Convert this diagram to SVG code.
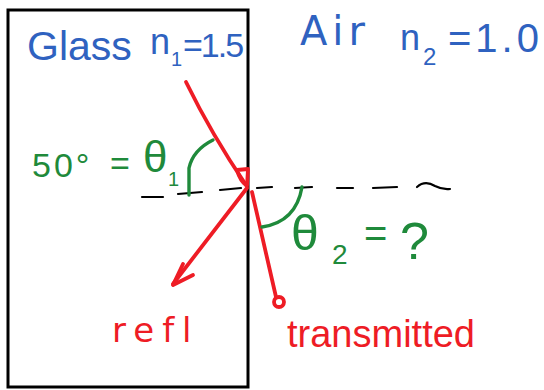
<svg xmlns="http://www.w3.org/2000/svg" width="544" height="390" viewBox="0 0 544 390">
<style>
.blue{fill:#2f62c0;font-family:"Liberation Sans",Arial,sans-serif}
.green{fill:#1f8a3b;font-family:"Liberation Sans",Arial,sans-serif}
.red{fill:#ee1c25;font-family:"Liberation Sans",Arial,sans-serif}
.wide{font-family:"DejaVu Sans",Verdana,sans-serif}
.ray{stroke:#ee1c25;stroke-width:3.8;fill:none;stroke-linecap:round;stroke-linejoin:round}
.arc{stroke:#1f8a3b;stroke-width:3.4;fill:none;stroke-linecap:round}
.dash{stroke:#000;stroke-width:2.2;fill:none;stroke-linecap:round}
</style>
<rect width="544" height="390" fill="#fff"/>
<g id="glass">
<rect x="8" y="10" width="240" height="377" fill="none" stroke="#000" stroke-width="3"/>
</g>
<g id="normal">
<path class="dash" d="M142,197 L163,197" stroke-width="5"/>
<path class="dash" d="M178,194 L202,192"/>
<path class="dash" d="M220,190 L241,188"/>
<path class="dash" d="M257,188 L272,187"/>
<path class="dash" d="M295,188 L312,187"/>
<path class="dash" d="M337,188 L353,188"/>
<path class="dash" d="M373,188 L397,187"/>
<path class="dash" d="M417,187 Q425,180 435,186 Q443,190 450,189"/>
</g>
<g id="connectors">
<path class="ray" d="M186,82 Q212,135 246,185"/>
<path class="ray" d="M237,170 Q240,181 247,186 L248,169 Z" fill="#ee1c25"/>
<path class="ray" d="M247,188 L173,284"/>
<path class="ray" d="M183,264 L173,285 L193,275"/>
<path class="ray" d="M252,192 L276,297" stroke-width="3"/>
<circle cx="279" cy="302" r="5" class="ray" stroke-width="3.2"/>
</g>
<g id="angle1">
<path class="arc" d="M189,195 L189,168 Q193,150 213,140"/>
</g>
<g id="angle2">
<path class="arc" d="M302,187 Q296,222 262,227"/>
</g>
<g id="label-glass" class="blue">
<text x="27" y="60" font-size="41">Glass</text>
<text x="150" y="54" font-size="36">n</text>
<text x="171" y="66" font-size="20">1</text>
<text x="183" y="57" font-size="34" letter-spacing="-2">=1.5</text>
</g>
<g id="label-air" class="blue">
<text x="300" y="45" font-size="40" letter-spacing="5" class="wide">Air</text>
<text x="400" y="50" font-size="36">n</text>
<text x="423" y="65" font-size="24">2</text>
<text x="448" y="52" font-size="40" letter-spacing="4">=1.0</text>
</g>
<g id="label-theta1" class="green">
<text x="32" y="177" font-size="34" letter-spacing="3">50°</text>
<text x="110" y="175" font-size="34">=</text>
<text x="143" y="172" font-size="44">θ</text>
<text x="168" y="186" font-size="20">1</text>
</g>
<g id="label-theta2" class="green">
<text x="291" y="250" font-size="50">θ</text>
<text x="332" y="264" font-size="28">2</text>
<text x="364" y="247" font-size="40">=</text>
<text x="400" y="259" font-size="52">?</text>
</g>
<g id="label-refl" class="red">
<text x="112" y="342" font-size="34" letter-spacing="8" class="wide">refl</text>
</g>
<g id="label-transmitted" class="red">
<text x="287" y="347" font-size="38">transmitted</text>
</g>
</svg>
